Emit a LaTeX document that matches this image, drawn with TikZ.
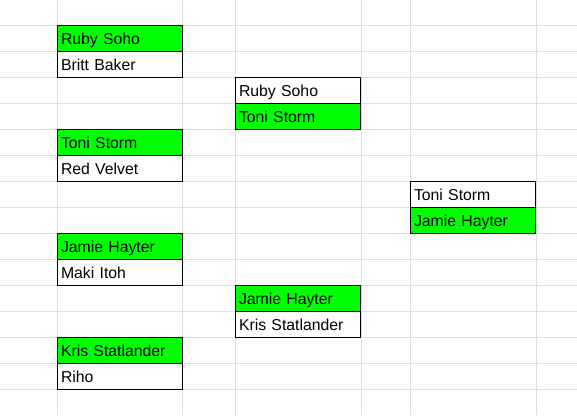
\documentclass[tikz,border=0pt]{standalone}
\usepackage{fontspec}
\setmainfont{Liberation Sans}
\usetikzlibrary{positioning}

\definecolor{cellgreen}{RGB}{0,255,0}
\definecolor{gridgray}{RGB}{222,222,222}

\tikzset{
  cell/.style={draw=black, line width=1pt, anchor=north west, outer sep=0pt,
    inner xsep=4pt, inner ysep=0pt,
    text width=117.5pt, align=left, text height=18.5pt, text depth=7.5pt,
    font=\fontsize{15.8}{18}\selectfont},
  win/.style={cell, fill=cellgreen},
  lose/.style={cell, fill=white},
  gridline/.style={draw=gridgray, line width=1pt}
}

\begin{document}
\begin{tikzpicture}[x=1pt,y=-1pt]
  \useasboundingbox (0,0) rectangle (577,415);
  % sheet grid
  \foreach \gx in {57,182,235,361,410,536}
    \draw[gridline] (\gx,0) -- (\gx,415);
  \foreach \gy in {25.5,51.5,...,415}
    \draw[gridline] (0,\gy) -- (577,\gy);

  % first round
  \node[win]  (b2)  at (57,25.5)  {Ruby Soho};
  \node[lose, below=0pt of b2] (b3) {Britt Baker};
  \node[win]  (b6)  at (57,129.5) {Toni Storm};
  \node[lose, below=0pt of b6] (b7) {Red Velvet};
  \node[win]  (b10) at (57,233.5) {Jamie Hayter};
  \node[lose, below=0pt of b10] (b11) {Maki Itoh};
  \node[win]  (b14) at (57,337.5) {Kris Statlander};
  \node[lose, below=0pt of b14] (b15) {Riho};

  % semi finals
  \node[lose] (d4)  at (235,77.5)  {Ruby Soho};
  \node[win, below=0pt of d4] (d5) {Toni Storm};
  \node[win]  (d12) at (235,285.5) {Jamie Hayter};
  \node[lose, below=0pt of d12] (d13) {Kris Statlander};

  % final
  \node[lose] (f8)  at (410,181.5) {Toni Storm};
  \node[win, below=0pt of f8] (f9) {Jamie Hayter};
\end{tikzpicture}
\end{document}
